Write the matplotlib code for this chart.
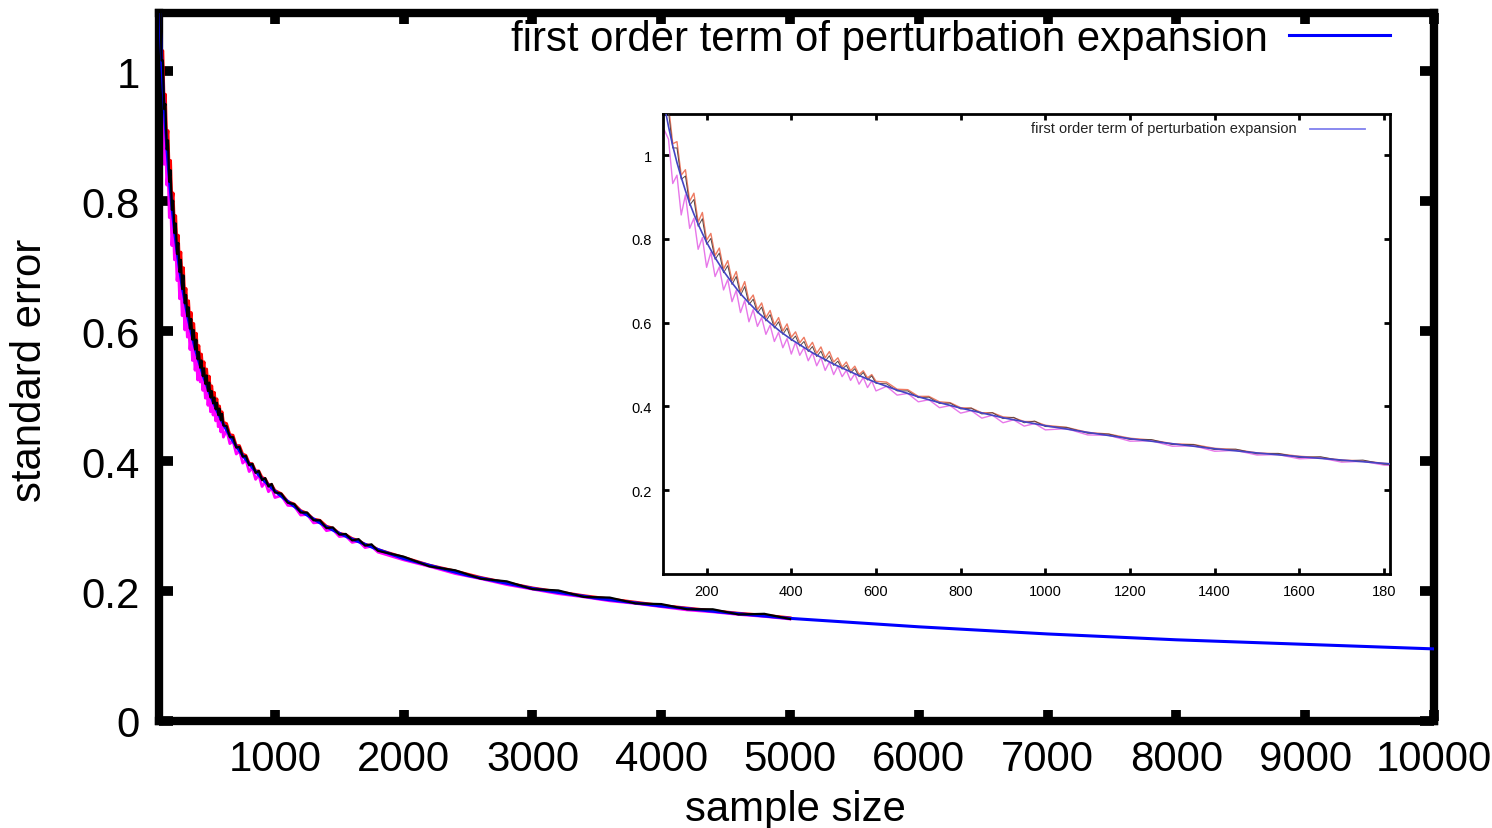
import matplotlib
matplotlib.use("Agg")
import matplotlib.pyplot as plt

plt.rcParams['font.family'] = ['Liberation Sans', 'DejaVu Sans']

# ---------------- data ----------------
sample_size = (list(range(100, 601, 10)) + list(range(625, 1001, 25))
               + list(range(1050, 1801, 50)) + list(range(2000, 5001, 200)))

red_series = [
    1.125, 1.118, 1.027, 1.032, 0.952, 0.965, 0.890, 0.909, 0.840, 0.863,
    0.797, 0.813, 0.760, 0.778, 0.728, 0.748, 0.700, 0.722, 0.674, 0.698,
    0.652, 0.666, 0.631, 0.647, 0.612, 0.629, 0.595, 0.612, 0.580, 0.597,
    0.565, 0.578, 0.552, 0.565, 0.539, 0.553, 0.527, 0.542, 0.516, 0.531,
    0.506, 0.516, 0.494, 0.506, 0.485, 0.496, 0.476, 0.485, 0.468, 0.476,
    0.460,
    0.458, 0.441, 0.440, 0.424, 0.424, 0.411, 0.409, 0.397, 0.396, 0.385,
    0.385, 0.375, 0.373, 0.364, 0.364, 0.355,
    0.350, 0.338, 0.334, 0.324, 0.320, 0.311, 0.309, 0.300, 0.297, 0.289,
    0.287, 0.281, 0.278, 0.272, 0.270, 0.264,
    0.252, 0.240, 0.231, 0.221, 0.213, 0.205, 0.199, 0.193, 0.188, 0.183,
    0.178, 0.174, 0.170, 0.166, 0.163, 0.159]

magenta_series = [
    1.060, 1.038, 0.932, 0.952, 0.857, 0.905, 0.825, 0.849, 0.775, 0.803,
    0.732, 0.768, 0.710, 0.733, 0.678, 0.703, 0.650, 0.677, 0.624, 0.653,
    0.602, 0.631, 0.591, 0.612, 0.572, 0.594, 0.555, 0.577, 0.540, 0.562,
    0.525, 0.553, 0.522, 0.540, 0.509, 0.528, 0.497, 0.517, 0.486, 0.506,
    0.476, 0.496, 0.471, 0.486, 0.462, 0.478, 0.453, 0.469, 0.445, 0.461,
    0.437,
    0.448, 0.427, 0.431, 0.411, 0.416, 0.397, 0.402, 0.384, 0.390, 0.372,
    0.379, 0.361, 0.368, 0.353, 0.359, 0.344,
    0.347, 0.332, 0.331, 0.317, 0.318, 0.305, 0.306, 0.293, 0.295, 0.284,
    0.285, 0.275, 0.277, 0.267, 0.269, 0.260,
    0.248, 0.238, 0.227, 0.219, 0.210, 0.203, 0.196, 0.191, 0.185, 0.181,
    0.176, 0.171, 0.168, 0.164, 0.161, 0.157]

black_series = [
    1.118, 1.103, 1.017, 1.017, 0.942, 0.950, 0.880, 0.894, 0.830, 0.848,
    0.787, 0.801, 0.751, 0.766, 0.719, 0.736, 0.691, 0.710, 0.665, 0.686,
    0.643, 0.656, 0.623, 0.637, 0.604, 0.619, 0.587, 0.602, 0.572, 0.587,
    0.557, 0.568, 0.544, 0.555, 0.531, 0.543, 0.519, 0.532, 0.508, 0.521,
    0.498, 0.508, 0.489, 0.498, 0.480, 0.490, 0.471, 0.481, 0.463, 0.473,
    0.455,
    0.454, 0.437, 0.437, 0.421, 0.422, 0.407, 0.408, 0.394, 0.396, 0.382,
    0.385, 0.371, 0.374, 0.361, 0.365, 0.352,
    0.350, 0.336, 0.334, 0.321, 0.321, 0.309, 0.309, 0.297, 0.298, 0.287,
    0.288, 0.278, 0.280, 0.270, 0.272, 0.262,
    0.253, 0.238, 0.232, 0.219, 0.215, 0.203, 0.201, 0.191, 0.190, 0.181,
    0.180, 0.172, 0.172, 0.164, 0.165, 0.157]

perturbation_x = [100, 110, 120, 130, 140, 150, 160, 170, 180, 190, 200,
                  220, 240, 260, 280, 300, 325, 350, 375, 400,
                  450, 500, 550, 600, 650, 700, 750, 800,
                  900, 1000, 1100, 1200, 1300, 1400, 1500, 1600, 1700, 1800,
                  2000, 2500, 3000, 3500, 4000, 4500, 5000,
                  6000, 7000, 8000, 9000, 10000]
perturbation_y = [1.120, 1.068, 1.022, 0.982, 0.947, 0.915, 0.885, 0.859, 0.835, 0.813, 0.792,
                  0.755, 0.723, 0.695, 0.669, 0.647, 0.621, 0.599, 0.578, 0.560,
                  0.528, 0.501, 0.478, 0.457, 0.439, 0.423, 0.409, 0.396,
                  0.373, 0.354, 0.338, 0.323, 0.311, 0.299, 0.289, 0.280, 0.272, 0.264,
                  0.250, 0.224, 0.204, 0.189, 0.177, 0.167, 0.158,
                  0.145, 0.134, 0.125, 0.118, 0.111]

legend_label = 'first order term of perturbation expansion'
main_xticks = [1000, 2000, 3000, 4000, 5000, 6000, 7000, 8000, 9000, 10000]
main_yticks = [0, 0.2, 0.4, 0.6, 0.8, 1]
main_ytick_labels = ['0', '0.2', '0.4', '0.6', '0.8', '1']
inset_xticks = [200, 400, 600, 800, 1000, 1200, 1400, 1600, 1800]
inset_xtick_labels = ['200', '400', '600', '800', '1000', '1200', '1400', '1600', '180']
inset_yticks = [0.2, 0.4, 0.6, 0.8, 1]
inset_ytick_labels = ['0.2', '0.4', '0.6', '0.8', '1']

# ---------------- figure ----------------
W, H = 1492, 829
fig = plt.figure(figsize=(W / 100, H / 100), dpi=100)
fs = 30.2

ax = fig.add_axes([159 / W, 1 - 722 / H, 1275 / W, 708 / H])
ax.plot(sample_size, red_series, color='#ff0000', lw=2.0, zorder=2)
ax.plot(sample_size, magenta_series, color='#ff00ff', lw=2.0, zorder=2)
ax.plot(perturbation_x, perturbation_y, color='#0000ff', lw=2.2, zorder=3, label=legend_label)
ax.plot(sample_size, black_series, color='black', lw=1.6, zorder=4)
ax.set_xlim(100, 10000)
ax.set_ylim(0, 1.09)
ax.set_xticks(main_xticks)
ax.set_xticklabels([str(v) for v in main_xticks])
ax.set_yticks(main_yticks)
ax.set_yticklabels(main_ytick_labels)
for s in ax.spines.values():
    s.set_linewidth(6)
ax.tick_params(direction='in', top=True, right=True, width=7, labelsize=fs)
ax.tick_params(axis='x', length=8, pad=13)
ax.tick_params(axis='y', length=10, pad=14)
leg = ax.legend(loc='upper right', bbox_to_anchor=(1390 / W, 1 - 20 / H),
                bbox_transform=fig.transFigure, markerfirst=False, frameon=False,
                fontsize=fs, handlelength=2.4, handletextpad=0.5, borderpad=0.0,
                borderaxespad=0.0)

fig.text(795 / W, 1 - 810 / H, 'sample size', ha='center', va='center', fontsize=fs)
fig.text(30 / W, 1 - 370 / H, 'standard error', ha='center', va='center',
         rotation=90, fontsize=fs)

# ---------------- inset ----------------
axin = fig.add_axes([663 / W, 1 - 575 / H, 727 / W, 460 / H])
axin.set_facecolor('white')
axin.plot(sample_size, red_series, color='#ee7b62', lw=1.0, zorder=2)
axin.plot(sample_size, magenta_series, color='#e777e9', lw=1.0, zorder=2)
axin.plot(sample_size, black_series, color='#5a4545', lw=0.7, zorder=3)
axin.plot(perturbation_x, perturbation_y, color='#4444c4', lw=1.2, zorder=4)
axin.set_xlim(97, 1814)
axin.set_ylim(0, 1.098)
axin.set_xticks(inset_xticks)
axin.set_xticklabels(inset_xtick_labels)
axin.set_yticks(inset_yticks)
axin.set_yticklabels(inset_ytick_labels)
for s in axin.spines.values():
    s.set_linewidth(2)
axin.tick_params(direction='in', top=True, right=True, width=2, length=4,
                 labelsize=10.5, colors='black')
axin.tick_params(axis='x', pad=7)
axin.tick_params(axis='y', pad=8)
axin.text(1297 / W, 1 - 129 / H, legend_label, transform=fig.transFigure,
          ha='right', va='center', fontsize=10.5, color='#222222')
axin.plot([1310 / W, 1365 / W], [1 - 130 / H, 1 - 130 / H], transform=fig.transFigure,
          color='#8080ee', lw=1.3, clip_on=False)

fig.savefig('out.png', dpi=100, facecolor='white')
